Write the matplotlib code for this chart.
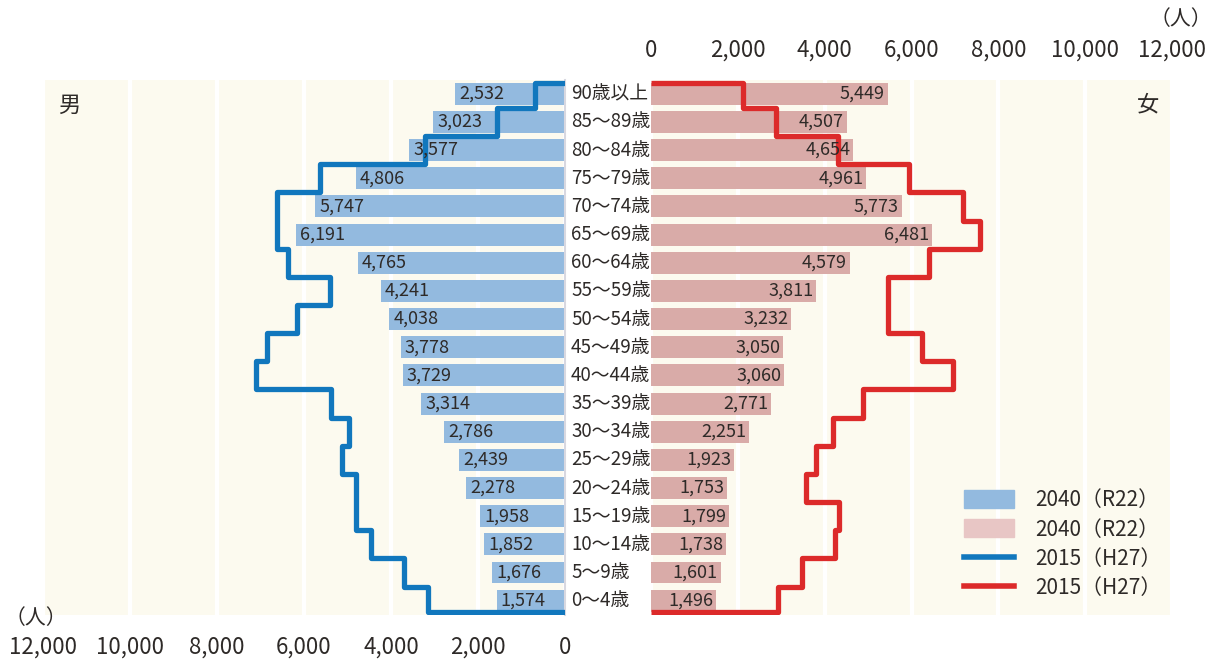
import matplotlib
matplotlib.use('Agg')
import matplotlib.pyplot as plt
import matplotlib.patches as mpatches
import matplotlib.lines as mlines
from matplotlib import transforms
import numpy as np

plt.rcParams['font.family'] = ['Noto Sans CJK JP', 'DejaVu Sans']

# ---------------- data (bottom row first) ----------------
age_labels = ['0～4歳', '5～9歳', '10～14歳', '15～19歳', '20～24歳', '25～29歳',
              '30～34歳', '35～39歳', '40～44歳', '45～49歳', '50～54歳', '55～59歳',
              '60～64歳', '65～69歳', '70～74歳', '75～79歳', '80～84歳', '85～89歳',
              '90歳以上']
male_2040 = [1574, 1676, 1852, 1958, 2278, 2439, 2786, 3314, 3729, 3778,
             4038, 4241, 4765, 6191, 5747, 4806, 3577, 3023, 2532]
female_2040 = [1496, 1601, 1738, 1799, 1753, 1923, 2251, 2771, 3060, 3050,
               3232, 3811, 4579, 6481, 5773, 4961, 4654, 4507, 5449]
male_2015 = [3150, 3700, 4460, 4800, 4800, 5130, 4970, 5380, 7100, 6850,
             6160, 5400, 6370, 6620, 6620, 5630, 3220, 1560, 690]
female_2015 = [2930, 3480, 4240, 4330, 3570, 3800, 4190, 4880, 6960, 6240,
               5460, 5460, 6400, 7580, 7190, 5940, 4310, 2880, 2120]
tick_values = [0, 2000, 4000, 6000, 8000, 10000, 12000]
tick_labels = ['0', '2,000', '4,000', '6,000', '8,000', '10,000', '12,000']
legend_labels = ['2040（R22）', '2040（R22）', '2015（H27）', '2015（H27）']
unit_label = '（人）'
male_label = '男'
female_label = '女'

# ---------------- styles ----------------
W, H = 1214, 659
cream = '#FCFAEF'
blue_bar = '#93BADF'
pink_bar = '#D9ABA8'
pink_leg = '#E8C6C5'
blue_line = '#1177BD'
red_line = '#DC2A2A'
txt = '#2E2A28'

fig = plt.figure(figsize=(W / 100, H / 100), dpi=100)

def fx(px):
    return px / W

def fy(py):
    return 1 - py / H

ax_bottom = fy(615)
ax_h = fy(80) - fy(615)
axL = fig.add_axes([fx(43), ax_bottom, fx(565) - fx(43), ax_h])
axR = fig.add_axes([fx(651), ax_bottom, fx(1172) - fx(651), ax_h])

n = len(age_labels)
y = np.arange(n)
bar_h = 0.78
edges = np.concatenate([[-bar_h / 2], np.arange(n - 1) + 0.5, [n - 1 + bar_h / 2]])

for ax in (axL, axR):
    ax.set_facecolor(cream)
    ax.set_ylim(-0.51, n - 0.51)
    ax.set_yticks([])
    ax.set_xticks(tick_values)
    ax.set_xticklabels(tick_labels)
    ax.tick_params(axis='x', length=0, labelsize=16, colors=txt)
    for s in ax.spines.values():
        s.set_visible(False)
    ax.set_axisbelow(True)
    ax.grid(axis='x', color='white', lw=3)

axL.set_xlim(12000, 0)
axR.set_xlim(0, 12000)
axL.tick_params(axis='x', pad=15)
axR.xaxis.tick_top()
axR.tick_params(axis='x', pad=13)
axL.spines['right'].set_visible(True)
axL.spines['right'].set_color('#D8D8E0')
axL.spines['right'].set_linewidth(1.5)

# bars
axL.barh(y, male_2040, height=bar_h, color=blue_bar, zorder=2)
axR.barh(y, female_2040, height=bar_h, color=pink_bar, zorder=2)

for i in range(n):
    axL.annotate(f'{male_2040[i]:,}', (male_2040[i], y[i]), xytext=(3, 0),
                 textcoords='offset points', ha='left', va='center',
                 fontsize=13, color=txt, zorder=4)
    axR.annotate(f'{female_2040[i]:,}', (female_2040[i], y[i]), xytext=(-2, 0),
                 textcoords='offset points', ha='right', va='center',
                 fontsize=13, color=txt, zorder=4)

# 2015 step lines
axL.stairs(male_2015, edges, orientation='horizontal', baseline=0,
           color=blue_line, lw=3.8, zorder=3, joinstyle='round')
axR.stairs(female_2015, edges, orientation='horizontal', baseline=0,
           color=red_line, lw=3.8, zorder=3, joinstyle='round')

# age labels in the middle column
tr = transforms.blended_transform_factory(fig.transFigure, axR.transData)
for i in range(n):
    fig.text(fx(571), y[i], age_labels[i], transform=tr, ha='left', va='center',
             fontsize=13.5, color=txt)

# sex labels
fig.text(fx(69), fy(105), male_label, ha='center', va='center', fontsize=16, color=txt)
fig.text(fx(1148), fy(105), female_label, ha='center', va='center', fontsize=16, color=txt)

# unit labels
fig.text(fx(1212), fy(19), unit_label, ha='right', va='center', fontsize=15, color=txt)
fig.text(fx(36), fy(618), unit_label, ha='center', va='center', fontsize=15, color=txt)

# legend
handles = [mpatches.Patch(color=blue_bar), mpatches.Patch(color=pink_leg),
           mlines.Line2D([], [], color=blue_line, lw=4),
           mlines.Line2D([], [], color=red_line, lw=4)]
leg = fig.legend(handles, legend_labels, loc='upper left',
                 bbox_to_anchor=(fx(964), fy(489)), frameon=False,
                 borderpad=0, borderaxespad=0, fontsize=15,
                 handlelength=2.4, handleheight=0.95, handletextpad=1.0,
                 labelspacing=0.36)
for t in leg.get_texts():
    t.set_color(txt)

fig.savefig('out.png', dpi=100)
